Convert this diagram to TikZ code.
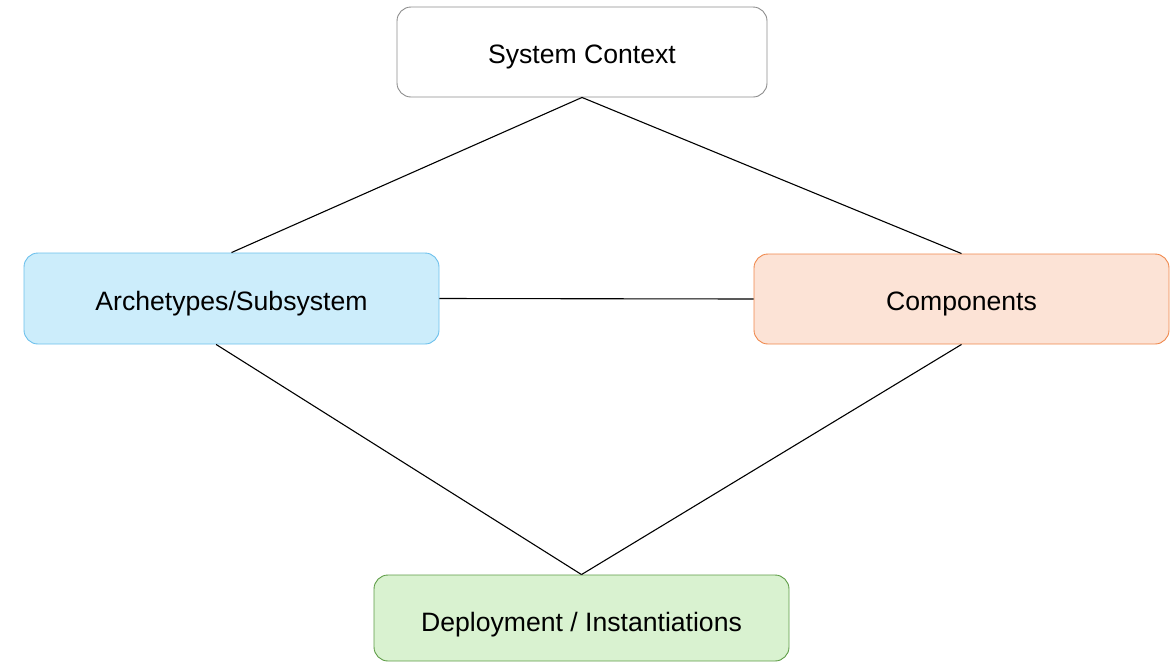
\documentclass[tikz,border=0pt]{standalone}
\usepackage{fontspec}
\setmainfont{Liberation Sans}
\usetikzlibrary{calc}
\definecolor{ctxline}{HTML}{8C8C8C}
\definecolor{archfill}{HTML}{CCEDFB}
\definecolor{archline}{HTML}{6CC0EC}
\definecolor{compfill}{HTML}{FCE3D6}
\definecolor{compline}{HTML}{F0884C}
\definecolor{depfill}{HTML}{D9F2D0}
\definecolor{depline}{HTML}{5E9C46}
\tikzset{
  box/.style={draw, rounded corners=14pt, line width=0.9pt, inner sep=0pt,
    font=\fontsize{26.6}{30}\selectfont, text=black,
    text height=23pt, text depth=0pt},
  link/.style={draw=black, line width=1.1pt}
}
\begin{document}
\begin{tikzpicture}[x=1pt, y=-1pt]
\useasboundingbox (0,0) rectangle (1175,662);
\node[box, draw=ctxline, fill=white, minimum width=370pt, minimum height=90pt]
  (ctx) at (582,52) {System Context};
\node[box, draw=archline, fill=archfill, minimum width=415pt, minimum height=91pt]
  (arch) at (231.5,298.5) {Archetypes/Subsystem};
\node[box, draw=compline, fill=compfill, minimum width=415pt, minimum height=90pt]
  (comp) at (961.5,299) {Components};
\node[box, draw=depline, fill=depfill, minimum width=415pt, minimum height=86pt,
  text height=27pt]
  (dep) at (581.5,618) {Deployment / Instantiations};
\coordinate (archlow) at ($(arch.south west)!0.463!(arch.south east)$);
\draw[link] (ctx.south) -- (arch.north);
\draw[link] (ctx.south) -- (comp.north);
\draw[link] (arch.east) -- (comp.west);
\draw[link] (archlow) -- (dep.north);
\draw[link] (comp.south) -- (dep.north);
\end{tikzpicture}
\end{document}
